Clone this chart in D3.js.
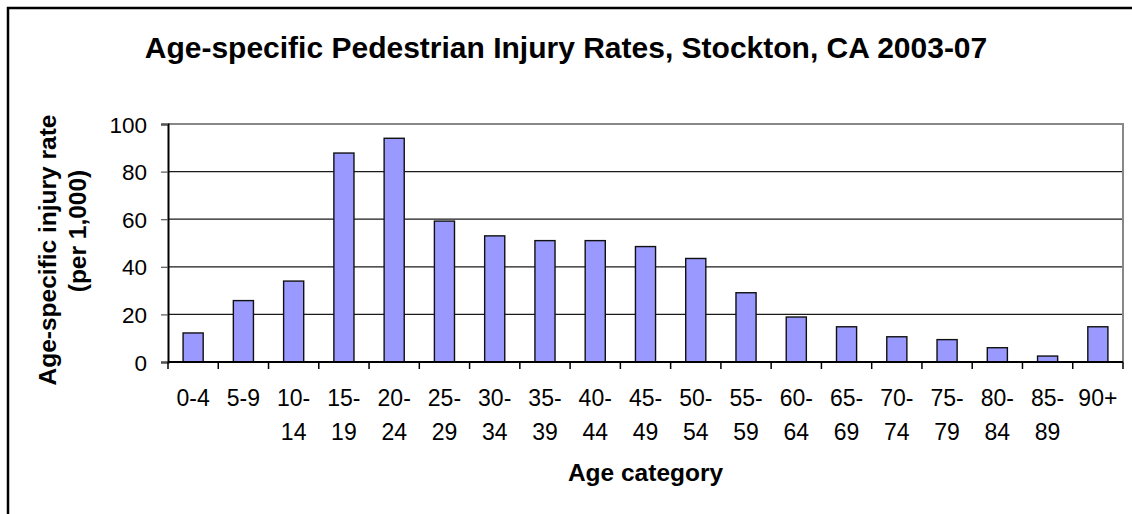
<!DOCTYPE html>
<html lang="en">
<head>
    <meta charset="UTF-8">
    <title>Age-specific Pedestrian Injury Rates</title>
    <script src="https://d3js.org/d3.v7.min.js"></script>
    <style>
        body { margin: 0; background: #fff; }
        svg { font-family: "Liberation Sans", Arial, sans-serif; }
        .grid line { stroke: #1a1a1a; stroke-width: 1.3px; }
        .bar { fill: #9999ff; stroke: #111; stroke-width: 1.4px; }
        .tick-label { font-size: 23px; fill: #000; }
        .axis-title { font-size: 24.5px; font-weight: bold; fill: #000; }
    </style>
</head>
<body>
    <svg id="chart"></svg>
    <script>
        // Data
        const ageGroups = ["0-4", "5-9", "10-14", "15-19", "20-24", "25-29", "30-34", "35-39", "40-44",
            "45-49", "50-54", "55-59", "60-64", "65-69", "70-74", "75-79", "80-84", "85-89", "90+"];
        const injuryRates = [12.2, 25.8, 34, 87.8, 94, 59.2, 53, 51, 51, 48.5, 43.5, 29.1, 18.9, 14.8, 10.6, 9.4, 6, 2.5, 14.8];
        const yTicks = [0, 20, 40, 60, 80, 100];

        const width = 1132, height = 514;
        const plot = { left: 168, right: 1123, top: 124, bottom: 362 };

        const svg = d3.select("#chart").attr("width", width).attr("height", height);

        // outer chart frame (only top and left visible)
        svg.append("path")
            .attr("d", "M8,600 L8,8 L1140,8")
            .attr("fill", "none")
            .attr("stroke", "#000")
            .attr("stroke-width", 2.5);

        const x = d3.scaleBand()
            .domain(ageGroups)
            .range([plot.left, plot.right])
            .paddingInner(0.6)
            .paddingOuter(0.3);

        const y = d3.scaleLinear()
            .domain([0, 100])
            .range([plot.bottom, plot.top]);

        // gridlines
        svg.append("g")
            .attr("class", "grid")
            .selectAll("line")
            .data(yTicks.filter(d => d > 0 && d < 100))
            .enter().append("line")
            .attr("x1", plot.left).attr("x2", plot.right)
            .attr("y1", d => y(d)).attr("y2", d => y(d));

        // plot border top & right (gray)
        svg.append("path")
            .attr("d", `M${plot.left},${y(100)} L${plot.right},${y(100)} L${plot.right},${plot.bottom}`)
            .attr("fill", "none")
            .attr("stroke", "#888")
            .attr("stroke-width", 2);

        // bars
        svg.selectAll(".bar")
            .data(ageGroups)
            .enter().append("rect")
            .attr("class", "bar")
            .attr("x", d => x(d))
            .attr("width", x.bandwidth())
            .attr("y", (d, i) => y(injuryRates[i]))
            .attr("height", (d, i) => y(0) - y(injuryRates[i]));

        // y axis
        const yAxis = svg.append("g")
            .attr("transform", `translate(${plot.left},0)`)
            .call(d3.axisLeft(y).tickValues(yTicks).tickSize(7).tickPadding(14));
        yAxis.select(".domain").attr("stroke", "#000").attr("stroke-width", 2);
        yAxis.selectAll(".tick line").attr("stroke", "#555").attr("stroke-width", 1.2);
        yAxis.selectAll(".tick text")
            .attr("class", "tick-label")
            .attr("dy", "0.36em")
            .style("font-size", "22.5px")
            .style("font-family", "'Liberation Sans', Arial, sans-serif");

        // x axis line with ticks at category boundaries
        const step = x.step();
        const boundaries = d3.range(ageGroups.length + 1).map(i => plot.left + i * step);
        svg.append("line")
            .attr("x1", plot.left).attr("x2", plot.right)
            .attr("y1", plot.bottom).attr("y2", plot.bottom)
            .attr("stroke", "#000").attr("stroke-width", 2);
        svg.selectAll(".xtick")
            .data(boundaries)
            .enter().append("line")
            .attr("x1", d => d).attr("x2", d => d)
            .attr("y1", plot.bottom).attr("y2", plot.bottom + 7)
            .attr("stroke", "#000").attr("stroke-width", 1.5);

        // x tick labels (wrapped at the dash like the original)
        const xLabels = svg.append("g");
        ageGroups.forEach(g => {
            const cx = x(g) + x.bandwidth() / 2;
            const parts = g.length > 4 ? [g.split("-")[0] + "-", g.split("-")[1]] : [g];
            parts.forEach((p, j) => {
                xLabels.append("text")
                    .attr("class", "tick-label")
                    .attr("x", cx)
                    .attr("y", 406 + j * 34)
                    .attr("text-anchor", "middle")
                    .text(p);
            });
        });

        // titles
        svg.append("text")
            .attr("x", 566)
            .attr("y", 58)
            .attr("text-anchor", "middle")
            .style("font-size", "30px")
            .style("font-weight", "bold")
            .text("Age-specific Pedestrian Injury Rates, Stockton, CA 2003-07");

        svg.append("text")
            .attr("class", "axis-title")
            .attr("x", (plot.left + plot.right) / 2)
            .attr("y", 481)
            .attr("text-anchor", "middle")
            .text("Age category");

        svg.append("text")
            .attr("class", "axis-title")
            .attr("transform", "translate(56,250) rotate(-90)")
            .attr("text-anchor", "middle")
            .text("Age-specific injury rate");
        svg.append("text")
            .attr("class", "axis-title")
            .attr("transform", "translate(86,231) rotate(-90)")
            .attr("text-anchor", "middle")
            .text("(per 1,000)");
    </script>
</body>
</html>
